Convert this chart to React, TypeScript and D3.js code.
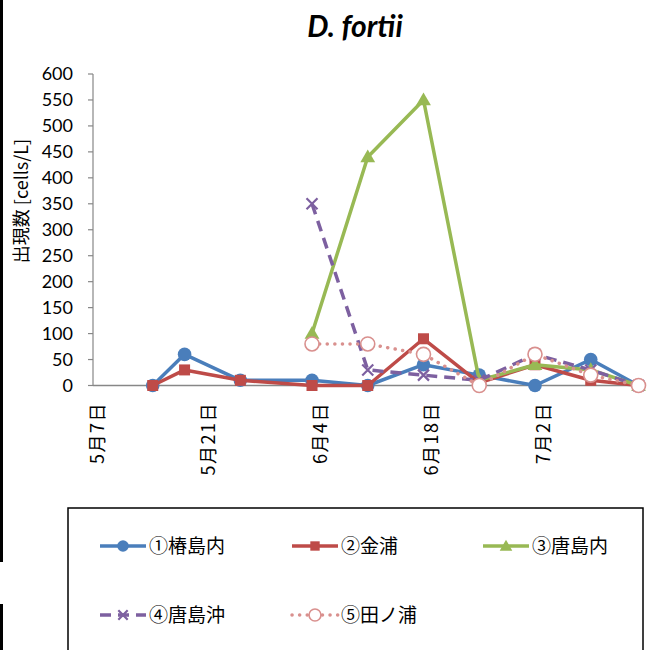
import React from "react";
import * as d3 from "d3";

const dates = ["2014-05-14", "2014-05-18", "2014-05-25", "2014-06-03", "2014-06-10", "2014-06-17", "2014-06-24", "2014-07-01", "2014-07-08", "2014-07-14"];
const tsubakiUchi = [0, 60, 10, 10, 0, 40, 20, 0, 50, 0];
const kanaura = [0, 30, 10, 0, 0, 90, 5, 40, 10, 0];
const karashimaUchi = [null, null, null, 100, 440, 550, 10, 40, 30, 0];
const karashimaOki = [null, null, null, 350, 30, 20, 10, 60, 30, 0];
const tanoura = [null, null, null, 80, 80, 60, 0, 60, 20, 0];
const seriesNames = ["①椿島内", "②金浦", "③唐島内", "④唐島沖", "⑤田ノ浦"];
const xTickDates = ["2014-05-07", "2014-05-21", "2014-06-04", "2014-06-18", "2014-07-02"];
const xTickLabels = ["5月7日", "5月21日", "6月4日", "6月18日", "7月2日"];
const yTicks = [0, 50, 100, 150, 200, 250, 300, 350, 400, 450, 500, 550, 600];

const parse = (s: string) => new Date(s + "T12:00:00");

const colors = ["#4A7EBB", "#BE4B48", "#98B954", "#7D60A0", "#D9908E"];

type Marker = "circle" | "square" | "triangle" | "x" | "ocircle";
const styles: { color: string; marker: Marker; dash?: string; cap?: string }[] = [
  { color: colors[0], marker: "circle" },
  { color: colors[1], marker: "square" },
  { color: colors[2], marker: "triangle" },
  { color: colors[3], marker: "x", dash: "11,7" },
  { color: colors[4], marker: "ocircle", dash: "0.1,7.5", cap: "round" },
];

function MarkerShape({ type, x, y, color, scale = 1 }: { type: Marker; x: number; y: number; color: string; scale?: number }) {
  if (type === "circle") return <circle cx={x} cy={y} r={6.8 * scale} fill={color} />;
  if (type === "square") return <rect x={x - 5.5 * scale} y={y - 5.5 * scale} width={11 * scale} height={11 * scale} fill={color} />;
  if (type === "triangle") {
    const p = d3.symbol().type(d3.symbolTriangle).size(95 * scale * scale)();
    return <path d={p as string} transform={`translate(${x},${y + 1})`} fill={color} />;
  }
  if (type === "x") {
    const s = 5.5 * scale;
    return (
      <path d={`M${x - s},${y - s}L${x + s},${y + s}M${x + s},${y - s}L${x - s},${y + s}`} stroke={color} strokeWidth={2.2} fill="none" />
    );
  }
  return <circle cx={x} cy={y} r={7 * scale} fill="#fff" stroke={color} strokeWidth={1.6} />;
}

export default function App() {
  const W = 653, H = 650;
  const x = d3.scaleTime().domain([new Date("2014-05-07T00:00:00"), new Date("2014-07-15T00:00:00")]).range([93, 642.5]);
  const y = d3.scaleLinear().domain([0, 600]).range([385.5, 74]);
  const allSeries = [tsubakiUchi, kanaura, karashimaUchi, karashimaOki, tanoura];
  const line = d3
    .line<[Date, number | null]>()
    .defined((d) => d[1] !== null)
    .x((d) => x(d[0]))
    .y((d) => y(d[1] as number));

  const legendPos = [
    [100, 546],
    [292, 546],
    [483, 546],
    [100, 615],
    [292, 615],
  ];

  return (
    <div>
      <style>{`body{margin:0}`}</style>
      <svg width={W} height={H} style={{ display: "block", background: "#fff" }}>
        <rect x={0} y={0} width={3} height={562} fill="#000" />
        <rect x={0} y={604} width={3} height={46} fill="#000" />
        <text x={355} y={37} textAnchor="middle" fontFamily="Lato, 'Open Sans', sans-serif" fontWeight="bold" fontStyle="italic" fontSize={30}>
          D. fortii
        </text>
        {/* y axis */}
        <line x1={93} x2={93} y1={y(600)} y2={y(0)} stroke="#878787" strokeWidth={1.2} />
        {yTicks.map((t) => (
          <g key={t}>
            <line x1={88} x2={93} y1={y(t)} y2={y(t)} stroke="#878787" strokeWidth={1.2} />
            <text x={73} y={y(t)} dy="0.35em" textAnchor="end" fontFamily="Lato, sans-serif" fontSize={18}>
              {t}
            </text>
          </g>
        ))}
        <text
          transform={`translate(28,201) rotate(-90)`}
          textAnchor="middle"
          fontFamily="'Noto Sans CJK JP', sans-serif"
          fontSize={18}
        >
          出現数 [cells/L]
        </text>
        {/* x axis */}
        <line x1={93} x2={642.5} y1={y(0)} y2={y(0)} stroke="#878787" strokeWidth={1.6} />
        {xTickDates.map((d, i) => (
          <text
            key={d}
            transform={`translate(${x(parse(d)) + 7},402) rotate(-90)`}
            textAnchor="end"
            fontFamily="'Noto Sans CJK JP', sans-serif"
            fontSize={18}
            letterSpacing={1.5}
          >
            {xTickLabels[i]}
          </text>
        ))}
        {/* series */}
        {allSeries.map((vals, si) => {
          const pts: [Date, number | null][] = dates.map((d, i) => [parse(d), vals[i]]);
          const st = styles[si];
          return (
            <g key={si}>
              <path
                d={line(pts) as string}
                fill="none"
                stroke={st.color}
                strokeWidth={3.5}
                strokeDasharray={st.dash}
                strokeLinecap={(st.cap as any) || "butt"}
                strokeLinejoin="round"
              />
              {pts
                .filter((p) => p[1] !== null)
                .map((p, i) => (
                  <MarkerShape key={i} type={st.marker} x={x(p[0])} y={y(p[1] as number)} color={st.color} />
                ))}
            </g>
          );
        })}
        {/* legend */}
        <rect x={68} y={508} width={575} height={160} fill="#fff" stroke="#000" strokeWidth={1.5} />
        {seriesNames.map((n, i) => {
          const [lx, ly] = legendPos[i];
          const st = styles[i];
          return (
            <g key={n}>
              <line
                x1={lx}
                x2={lx + 46}
                y1={ly}
                y2={ly}
                stroke={st.color}
                strokeWidth={3.5}
                strokeDasharray={st.dash}
                strokeLinecap={(st.cap as any) || "butt"}
              />
              <MarkerShape type={st.marker} x={lx + 23} y={ly} color={st.color} scale={0.85} />
              <text x={lx + 49} y={ly} dy="0.36em" fontFamily="'Noto Sans CJK JP', sans-serif" fontSize={19}>
                {n}
              </text>
            </g>
          );
        })}
      </svg>
    </div>
  );
}
